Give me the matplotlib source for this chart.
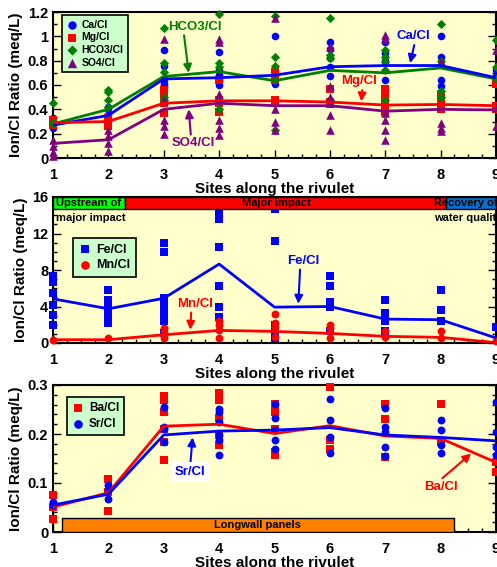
import matplotlib
matplotlib.use("Agg")
import matplotlib.pyplot as plt
from matplotlib.ticker import MultipleLocator, FixedLocator

plt.rcParams['font.family'] = ['Liberation Sans', 'DejaVu Sans']
plt.rcParams['font.weight'] = 'bold'

sites = [1, 2, 3, 4, 5, 6, 7, 8, 9]
site_ticks = ["1", "2", "3", "4", "5", "6", "7", "8", "9"]

# ---------- Panel 1: major ions ----------
ca_mean = [0.27, 0.35, 0.65, 0.66, 0.68, 0.75, 0.76, 0.76, 0.66]
mg_mean = [0.29, 0.30, 0.45, 0.47, 0.47, 0.46, 0.435, 0.44, 0.43]
hco3_mean = [0.28, 0.40, 0.67, 0.71, 0.635, 0.72, 0.70, 0.74, 0.65]
so4_mean = [0.12, 0.15, 0.40, 0.45, 0.43, 0.43, 0.385, 0.40, 0.395]

ca_pts = [[0.25, 0.28, 0.30, 0.33], [0.42, 0.40, 0.35, 0.33, 0.30],
          [0.89, 0.76, 0.65, 0.62, 0.60, 0.58], [0.87, 0.72, 0.68, 0.64, 0.60, 0.65],
          [1.00, 0.68, 0.61, 0.70], [0.95, 0.90, 0.82, 0.75, 0.67],
          [0.95, 0.86, 0.80, 0.64, 0.56], [1.00, 0.83, 0.64, 0.59], [0.67, 0.72]]
mg_pts = [[0.29, 0.27, 0.31], [0.33, 0.30, 0.26], [0.56, 0.50, 0.45, 0.37],
          [0.64, 0.48, 0.38, 0.45], [0.71, 0.48, 0.64, 0.45], [0.57, 0.46, 0.44],
          [0.57, 0.50, 0.44, 0.38], [0.53, 0.48, 0.40], [0.61, 0.40, 0.43]]
hco3_pts = [[0.45, 0.30, 0.28], [0.56, 0.54, 0.48, 0.42], [1.07, 0.78, 0.71, 0.50, 0.48],
            [1.18, 0.78, 0.75, 0.48, 0.40], [1.17, 0.83, 0.76, 0.64, 0.23],
            [1.15, 0.85, 0.82, 0.48], [0.89, 0.83, 0.79, 0.72, 0.48],
            [1.10, 0.80, 0.55, 0.50], [0.97, 0.75, 0.65]]
so4_pts = [[0.15, 0.05, 0.02, 0.10], [0.23, 0.18, 0.12, 0.06], [0.98, 0.48, 0.26, 0.20, 0.31],
           [0.98, 0.95, 0.53, 0.31, 0.25, 0.19], [1.15, 0.40, 0.30, 0.23],
           [0.91, 0.59, 0.50, 0.45, 0.35, 0.23], [1.01, 0.98, 0.37, 0.31, 0.23, 0.15],
           [0.80, 0.29, 0.25, 0.22], [0.89, 0.42, 0.26]]
y1_ticks = [0, 0.2, 0.4, 0.6, 0.8, 1.0, 1.2]
y1_labels = ['0', '0.2', '0.4', '0.6', '0.8', '1', '1.2']

# ---------- Panel 2: Fe, Mn ----------
fe_mean = [4.84, 3.75, 4.9, 8.65, 3.93, 4.0, 2.62, 2.55, 0.55]
mn_mean = [0.36, 0.36, 0.9, 1.38, 1.27, 1.05, 0.73, 0.62, 0.04]
fe_pts = [[7.3, 6.7, 5.5, 4.2, 3.1, 2.0], [5.8, 4.7, 3.8, 3.3, 2.7, 2.2],
          [11.0, 10.0, 4.9, 4.2, 3.3, 2.4, 1.1], [14.4, 13.6, 10.5, 6.2, 4.0, 2.9],
          [14.7, 11.2, 2.0, 1.1, 0.5], [7.3, 6.2, 4.5, 4.0, 1.3],
          [4.7, 3.3, 2.9, 2.4, 1.3], [5.8, 3.6, 2.4], [1.8]]
mn_pts = [[0.36], [0.55], [1.6, 1.3, 0.9, 0.5], [2.4, 2.0, 1.45, 0.55],
          [3.2, 2.2, 1.8, 0.7], [2.0, 1.6, 0.5], [1.3, 0.7], [1.3, 0.5], [0.2]]
y2_ticks = [0, 4, 8, 12, 16]
y2_labels = ['0', '4', '8', '12', '16']

# ---------- Panel 3: Ba, Sr ----------
ba_mean = [0.051, 0.080, 0.216, 0.220, 0.201, 0.217, 0.196, 0.191, 0.142]
sr_mean = [0.055, 0.077, 0.198, 0.206, 0.208, 0.213, 0.198, 0.193, 0.186]
ba_pts = [[0.075, 0.051, 0.027], [0.108, 0.042, 0.082],
          [0.278, 0.269, 0.245, 0.184, 0.147, 0.211], [0.283, 0.276, 0.269, 0.232, 0.198, 0.177],
          [0.262, 0.245, 0.211, 0.157, 0.164], [0.295, 0.169, 0.187],
          [0.262, 0.230, 0.153], [0.262, 0.184], [0.123, 0.143]]
sr_pts = [[0.061, 0.055], [0.095, 0.085, 0.068], [0.256, 0.215, 0.211, 0.184],
          [0.252, 0.245, 0.225, 0.198, 0.187, 0.158], [0.262, 0.232, 0.208, 0.187, 0.170],
          [0.271, 0.228, 0.194, 0.162], [0.254, 0.215, 0.205, 0.174, 0.155],
          [0.228, 0.208, 0.177, 0.162], [0.265, 0.205, 0.174, 0.157]]
y3_ticks = [0, 0.1, 0.2, 0.3]
y3_labels = ['0', '0.1', '0.2', '0.3']

BG = '#FFFFCC'
LEGBG = '#CCFFCC'
BLUE = '#0000FF'
RED = '#FF0000'
GREEN = '#008000'
PURPLE = '#800080'

fig = plt.figure(figsize=(4.97, 5.67), dpi=100)
W = 496 / 497 - 53 / 497
ax1 = fig.add_axes([53 / 497, 1 - 158 / 567, W, 146 / 567])
ax2 = fig.add_axes([53 / 497, 1 - 343 / 567, W, 146 / 567])
ax3 = fig.add_axes([53 / 497, 1 - 532 / 567, W, 147 / 567])


def style(ax, ticks, labels, minor):
    ax.set_facecolor(BG)
    ax.set_xlim(1, 9)
    ax.xaxis.set_major_locator(FixedLocator(sites))
    ax.set_xticklabels(site_ticks)
    ax.xaxis.set_minor_locator(MultipleLocator(0.25))
    ax.set_yticks(ticks)
    ax.set_yticklabels(labels)
    ax.yaxis.set_minor_locator(MultipleLocator(minor))
    ax.set_ylim(ticks[0], ticks[-1])
    ax.tick_params(which='both', direction='in', top=False, right=True,
                   labelsize=10.5, width=1)
    ax.tick_params(which='major', length=6)
    ax.tick_params(which='minor', length=3)
    ax.tick_params(axis='x', pad=7)
    for t in ax.get_xticklabels() + ax.get_yticklabels():
        t.set_fontweight('bold')
    for s in ax.spines.values():
        s.set_linewidth(1.5)
    ax.set_xlabel('Sites along the rivulet', fontsize=11, fontweight='bold', labelpad=0)
    ax.set_ylabel('Ion/Cl Ratio (meq/L)', fontsize=11, fontweight='bold', labelpad=3)


def scatter_series(ax, pts, color, marker, size, label, z=3):
    xs, ys = [], []
    for s, vals in zip(sites, pts):
        xs += [s] * len(vals)
        ys += vals
    ax.scatter(xs, ys, s=size, c=color, marker=marker, linewidths=0,
               label=label, zorder=z, clip_on=False)


def make_legend(ax, anchor, size, spacing):
    leg = ax.legend(loc='upper left', bbox_to_anchor=anchor,
                    facecolor=LEGBG, edgecolor='black', framealpha=1, fancybox=False,
                    handletextpad=0.4, borderpad=0.45, labelspacing=spacing,
                    handlelength=1.0, borderaxespad=0, markerscale=1.1,
                    prop={'weight': 'bold', 'size': size})
    leg.get_frame().set_linewidth(1.2)
    return leg


arrow = dict(arrowstyle='-|>', lw=1.5, mutation_scale=12)
AFS = 9.5

# Panel 1
scatter_series(ax1, ca_pts, BLUE, 'o', 30, 'Ca/Cl')
scatter_series(ax1, mg_pts, RED, 's', 30, 'Mg/Cl')
scatter_series(ax1, hco3_pts, GREEN, 'D', 22, 'HCO3/Cl')
scatter_series(ax1, so4_pts, PURPLE, '^', 38, 'SO4/Cl')
ax1.plot(sites, hco3_mean, color=GREEN, lw=2, zorder=4)
ax1.plot(sites, ca_mean, color=BLUE, lw=2, zorder=4)
ax1.plot(sites, mg_mean, color=RED, lw=2, zorder=4)
ax1.plot(sites, so4_mean, color=PURPLE, lw=2, zorder=4)
style(ax1, y1_ticks, y1_labels, 0.1)
make_legend(ax1, (9 / 443, 1 - 3 / 146), 7.5, 0.25)

ax1.annotate('HCO3/Cl', xy=(3.45, 0.70), xytext=(3.07, 1.08), color=GREEN, fontsize=AFS,
             fontweight='bold', va='center', ha='left',
             arrowprops=dict(arrow, color=GREEN, shrinkA=0, shrinkB=0, relpos=(0.3, 0)))
ax1.annotate('Ca/Cl', xy=(7.45, 0.78), xytext=(7.2, 1.0), color=BLUE, fontsize=AFS,
             fontweight='bold', va='center', ha='left',
             arrowprops=dict(arrow, color=BLUE, shrinkA=0, shrinkB=0, relpos=(0.55, 0)))
ax1.annotate('Mg/Cl', xy=(6.57, 0.465), xytext=(6.2, 0.63), color=RED, fontsize=AFS,
             fontweight='bold', va='center', ha='left',
             arrowprops=dict(arrow, color=RED, shrinkA=0, shrinkB=0, relpos=(0.6, 0)))
ax1.annotate('SO4/Cl', xy=(3.45, 0.40), xytext=(3.14, 0.12), color=PURPLE, fontsize=AFS,
             fontweight='bold', va='center', ha='left',
             arrowprops=dict(arrow, color=PURPLE, shrinkA=0, shrinkB=0, relpos=(0.45, 1)))

# Panel 2
scatter_series(ax2, fe_pts, BLUE, 's', 26, 'Fe/Cl')
scatter_series(ax2, mn_pts, RED, 'o', 32, 'Mn/Cl')
ax2.plot(sites, fe_mean, color=BLUE, lw=2, zorder=4)
ax2.plot(sites, mn_mean, color=RED, lw=2, zorder=4)
style(ax2, y2_ticks, y2_labels, 1)
make_legend(ax2, (20 / 443, (343 - 238) / 146), 9, 0.3)
band_y, band_h = 14.7, 1.3
ax2.add_patch(plt.Rectangle((1, band_y), 1.3, band_h, facecolor='#00FF00', edgecolor='black', lw=1, zorder=5))
ax2.add_patch(plt.Rectangle((2.3, band_y), 5.79, band_h, facecolor=RED, edgecolor='black', lw=1, zorder=5))
ax2.add_patch(plt.Rectangle((8.09, band_y), 0.91, band_h, facecolor='#0070D0', edgecolor='black', lw=1, zorder=5))
ax2.text(1.05, 15.35, 'Upstream of', fontsize=8, fontweight='bold', va='center', zorder=6)
ax2.text(1.05, 13.65, 'major impact', fontsize=8, fontweight='bold', va='center', zorder=6)
ax2.text(4.42, 15.35, 'Major impact', fontsize=8, fontweight='bold', va='center', zorder=6)
ax2.text(7.88, 15.35, 'Recovery of', fontsize=8, fontweight='bold', va='center', zorder=6)
ax2.text(7.88, 13.65, 'water quality', fontsize=8, fontweight='bold', va='center', zorder=6)
ax2.annotate('Fe/Cl', xy=(5.43, 4.3), xytext=(5.23, 9.0), color=BLUE, fontsize=AFS,
             fontweight='bold', va='center', ha='left',
             arrowprops=dict(arrow, color=BLUE, shrinkA=0, shrinkB=0, relpos=(0.4, 0)))
ax2.annotate('Mn/Cl', xy=(3.48, 1.45), xytext=(3.25, 4.3), color=RED, fontsize=AFS,
             fontweight='bold', va='center', ha='left',
             arrowprops=dict(arrow, color=RED, shrinkA=0, shrinkB=0, relpos=(0.38, 0)))

# Panel 3
scatter_series(ax3, ba_pts, RED, 's', 30, 'Ba/Cl')
scatter_series(ax3, sr_pts, BLUE, 'o', 32, 'Sr/Cl')
ax3.plot(sites, ba_mean, color=RED, lw=2, zorder=4)
ax3.plot(sites, sr_mean, color=BLUE, lw=2, zorder=4)
style(ax3, y3_ticks, y3_labels, 0.02)
make_legend(ax3, (14 / 443, (532 - 397) / 147), 8.5, 0.3)
ax3.add_patch(plt.Rectangle((1.16, 0.0), 7.08, 0.0285, facecolor='#FF8000', edgecolor='black', lw=1, zorder=5))
ax3.text(4.7, 0.0143, 'Longwall panels', fontsize=8, fontweight='bold', va='center', ha='center', zorder=6)
ax3.annotate('Sr/Cl', xy=(3.52, 0.193), xytext=(3.2, 0.123), color=BLUE, fontsize=AFS,
             fontweight='bold', va='center', ha='left',
             bbox=dict(facecolor='white', edgecolor='none', pad=3),
             arrowprops=dict(arrow, color=BLUE, shrinkA=0, shrinkB=0, relpos=(0.5, 1)))
ax3.annotate('Ba/Cl', xy=(8.55, 0.160), xytext=(7.7, 0.092), color=RED, fontsize=AFS,
             fontweight='bold', va='center', ha='left',
             arrowprops=dict(arrow, color=RED, shrinkA=0, shrinkB=0, relpos=(0.45, 1)))

fig.savefig('out.png', dpi=100, facecolor='white')
